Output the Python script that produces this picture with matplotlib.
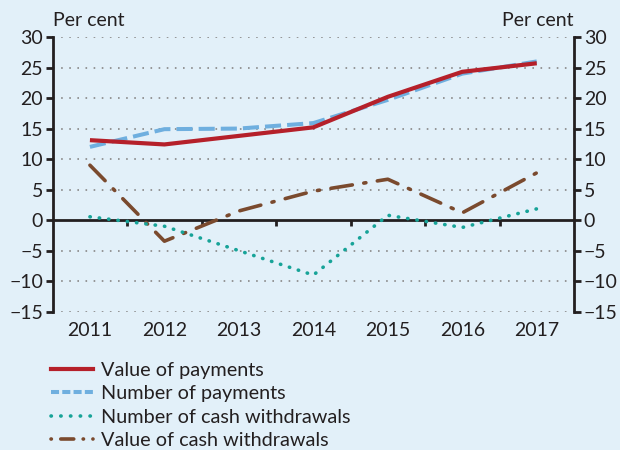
import matplotlib
matplotlib.use("Agg")
import matplotlib.pyplot as plt
from matplotlib.lines import Line2D
import matplotlib.transforms as mtransforms

years = [2011, 2012, 2013, 2014, 2015, 2016, 2017]
value_payments = [13.1, 12.4, 13.8, 15.2, 20.2, 24.3, 25.7]
number_payments = [12.0, 14.9, 15.0, 15.9, 19.7, 24.0, 26.0]
number_cash = [0.55, -1.0, -5.0, -9.0, 0.8, -1.2, 1.85]
value_cash = [9.0, -3.45, 1.5, 4.75, 6.7, 1.2, 7.75]
yticks = [-15, -10, -5, 0, 5, 10, 15, 20, 25, 30]
series_labels = ["Value of payments", "Number of payments",
                 "Number of cash withdrawals", "Value of cash withdrawals"]

BG = "#E2F0F9"
TXT = "#231F20"
RED = "#B5202A"
BLUE = "#6FAFDF"
TEAL = "#17A398"
BROWN = "#7A4A2E"

plt.rcParams['font.family'] = ['Lato', 'DejaVu Sans']

fig = plt.figure(figsize=(6.2, 4.5), dpi=100, facecolor=BG)
ax = fig.add_axes([52.7 / 620, 1 - 311.7 / 450, (574 - 52.7) / 620, (311.7 - 37) / 450])
ax.set_facecolor(BG)

ax.set_xlim(2010.5, 2017.5)
ax.set_ylim(-15, 30)

# grid
for v in yticks:
    if v != 0:
        ax.axhline(v, color="#8E8E8E", lw=1.3, ls=(0, (0.9, 3.6)), zorder=1)

ax.plot(years, value_cash, color=BROWN, lw=2.6,
        ls=(0, (6.0, 3.2, 0.6, 3.2)), dash_capstyle='round', solid_capstyle='round', zorder=3)
ax.plot(years, number_cash, color=TEAL, lw=2.6, ls=(0, (0.1, 2.5)),
        dash_capstyle='round', zorder=3)
ax.plot(years, number_payments, color=BLUE, lw=2.9, ls=(0, (4.0, 1.5)), zorder=4)
ax.plot(years, value_payments, color=RED, lw=3.0, zorder=5, solid_capstyle='butt')

# spines
ax.spines['top'].set_visible(False)
ax.spines['bottom'].set_position(('data', 0))
for s in ['bottom', 'left', 'right']:
    ax.spines[s].set_linewidth(2.0)
    ax.spines[s].set_color(TXT)
ax.spines['bottom'].set_zorder(2)

ax.set_xticks([y + 0.5 for y in years[:-1]])
ax.set_xticklabels([])
ax.tick_params(axis='x', direction='out', length=4, width=2, color=TXT)

ax.set_yticks(yticks)
ax.set_yticklabels([f"{v}".replace("-", "\u2212") for v in yticks])
ax.tick_params(axis='y', direction='out', length=5, width=2, color=TXT,
               labelsize=14, labelcolor=TXT, pad=2, left=True, right=True,
               labelleft=True, labelright=True)

trans = mtransforms.blended_transform_factory(ax.transData, ax.transAxes)
for y in years:
    ax.text(y, -0.07, str(y), transform=trans, ha='center', va='center',
            fontsize=14, color=TXT)

fig.text(53 / 620, 1 - 20 / 450, "Per cent", ha='left', va='center', fontsize=14, color=TXT)
fig.text(573 / 620, 1 - 20 / 450, "Per cent", ha='right', va='center', fontsize=14, color=TXT)

handles = [
    Line2D([], [], color=RED, lw=3.0),
    Line2D([], [], color=BLUE, lw=2.9, ls=(0, (2.0, 0.8))),
    Line2D([], [], color=TEAL, lw=2.6, ls=(0, (0.1, 2.6)), dash_capstyle='round'),
    Line2D([], [], color=BROWN, lw=2.6, ls=(0, (0.1, 2.6, 3.6, 2.6)), dash_capstyle='round'),
]
leg = fig.legend(handles, series_labels, loc='upper left',
                 bbox_to_anchor=(51 / 620, 1 - 362 / 450), frameon=False,
                 fontsize=14.3, handlelength=2.1, handletextpad=0.4,
                 labelspacing=0.32, borderpad=0, borderaxespad=0)
for t in leg.get_texts():
    t.set_color(TXT)

fig.savefig("out.png", dpi=100, facecolor=BG)
